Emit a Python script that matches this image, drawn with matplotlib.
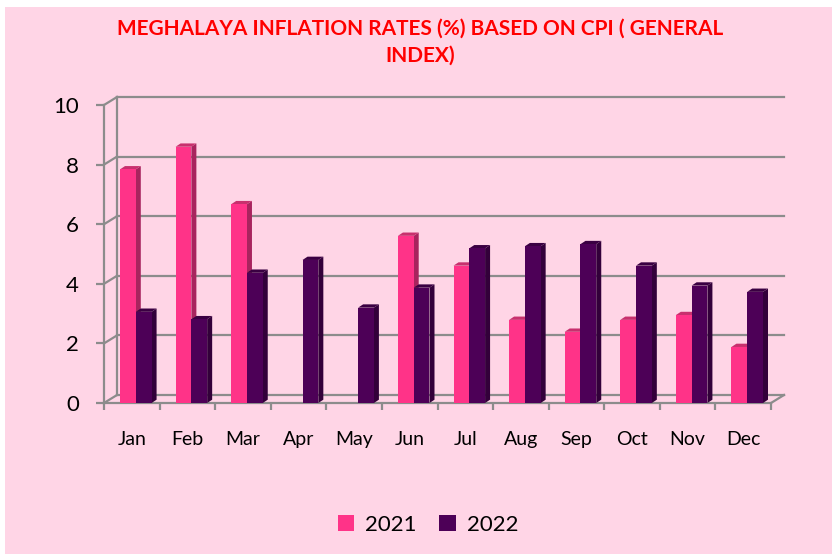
import numpy as np
import matplotlib.pyplot as plt
from matplotlib.patches import Rectangle, Polygon, Patch

# Meghalaya inflation rates (%) based on CPI (General Index)
months = ['Jan', 'Feb', 'Mar', 'Apr', 'May', 'Jun', 'Jul', 'Aug', 'Sep', 'Oct', 'Nov', 'Dec']
rate_2021 = [7.84, 8.60, 6.67, np.nan, np.nan, 5.61, 4.61, 2.79, 2.39, 2.79, 2.95, 1.88]
rate_2022 = [3.06, 2.81, 4.37, 4.80, 3.20, 3.87, 5.19, 5.26, 5.33, 4.61, 3.94, 3.73]
y_ticks = [0, 2, 4, 6, 8, 10]

bg = '#FFD5E6'
grid_col = '#8C8C8C'
col_2021 = '#FF3388'
col_2022 = '#4D0057'
side_2021, top_2021 = '#A8245E', '#C8306E'
side_2022, top_2022 = '#33003A', '#3A0042'

W, H = 832, 554
fig = plt.figure(figsize=(W / 100, H / 100), dpi=100, facecolor='white')
fig.patches.append(Rectangle((5 / W, 0), 1, 1 - 7 / H, transform=fig.transFigure,
                             facecolor=bg, edgecolor='none', zorder=-10))

ax_l, ax_r, ax_t, ax_b = 104, 771, 105, 403
ax = fig.add_axes([ax_l / W, 1 - ax_b / H, (ax_r - ax_l) / W, (ax_b - ax_t) / H])
ax.set_facecolor('none')
ax.set_xlim(0, 12)
ax.set_ylim(0, 10)

# data units per pixel (for the fake 3D depth)
px = 12 / (ax_r - ax_l)
py = 10 / (ax_b - ax_t)

# back wall / floor offsets
wx, wy = 13 * px, 8 * py
lw = 1.6
for v in y_ticks:
    ax.plot([wx, 12 + wx], [v + wy, v + wy], color=grid_col, lw=lw, clip_on=False, zorder=1)
    ax.plot([0, wx], [v, v + wy], color=grid_col, lw=lw, clip_on=False, zorder=1)
ax.plot([wx, wx], [wy, 10 + wy], color=grid_col, lw=lw, clip_on=False, zorder=1)
ax.plot([12, 12 + wx], [0, wy], color=grid_col, lw=lw, clip_on=False, zorder=1)

# bars with side and top faces
dx, dy = 5 * px, 3.3 * py
bw = 0.284
x = np.arange(len(months))


def draw_bars(xs, vals, front, side, top, z):
    for xl, h in zip(xs, vals):
        if np.isnan(h):
            continue
        xr = xl + bw
        ax.add_patch(Polygon([(xr, 0), (xr + dx, dy), (xr + dx, h + dy), (xr, h)],
                             facecolor=side, edgecolor='none', clip_on=False, zorder=z))
        ax.add_patch(Polygon([(xl, h), (xr, h), (xr + dx, h + dy), (xl + dx, h + dy)],
                             facecolor=top, edgecolor='none', clip_on=False, zorder=z))
    ax.bar(xs, vals, width=bw, align='edge', color=front, zorder=z + 1)


draw_bars(x + 0.288, np.array(rate_2021), col_2021, side_2021, top_2021, 2)
draw_bars(x + 0.288 + bw, np.array(rate_2022), col_2022, side_2022, top_2022, 4)

# axes, ticks
for s in ['top', 'right']:
    ax.spines[s].set_visible(False)
for s in ['left', 'bottom']:
    ax.spines[s].set_color(grid_col)
    ax.spines[s].set_linewidth(lw)
ax.set_yticks(y_ticks)
ax.set_yticklabels([str(v) for v in y_ticks], fontsize=16, family='Lato')
ax.tick_params(axis='y', length=6, width=lw, color=grid_col, pad=12)
ax.set_xticks(np.arange(13))
ax.set_xticklabels([])
ax.tick_params(axis='x', which='major', length=5, width=lw, color=grid_col)
ax.set_xticks(x + 0.5, minor=True)
ax.set_xticklabels(months, minor=True, fontsize=14, family='Lato')
ax.tick_params(axis='x', which='minor', length=0, pad=20)

fig.text(420 / W, 1 - 42 / H, 'MEGHALAYA INFLATION RATES (%) BASED ON CPI ( GENERAL\nINDEX)',
         ha='center', va='center', color='#FF0000', fontsize=15, fontweight='bold',
         family='Lato', linespacing=1.45)

handles = [Patch(facecolor=col_2021, label='2021'), Patch(facecolor=col_2022, label='2022')]
fig.legend(handles=handles, loc='center', bbox_to_anchor=(428 / W, 1 - 525 / H), ncol=2,
           frameon=False, prop={'family': 'Lato', 'size': 16},
           handlelength=0.75, handleheight=0.75, handletextpad=0.5, columnspacing=1.0)

fig.savefig('out.png', dpi=100, facecolor=fig.get_facecolor())
